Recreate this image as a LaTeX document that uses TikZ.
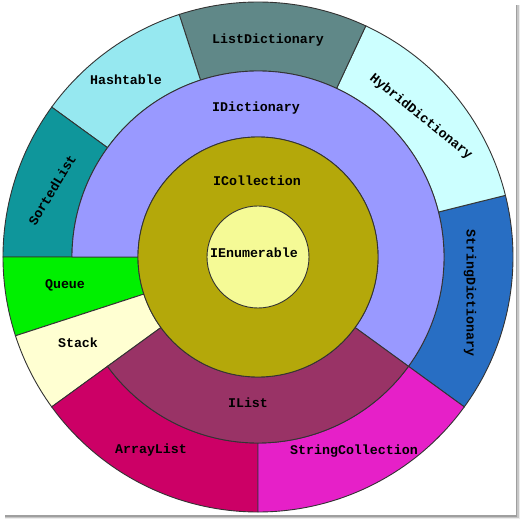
\documentclass[tikz,border=0pt]{standalone}
\usepackage{fontspec}
\setmainfont{Liberation Mono}
\definecolor{cEnum}{RGB}{245,250,150}
\definecolor{cColl}{RGB}{180,168,10}
\definecolor{cDict}{RGB}{153,153,255}
\definecolor{cList}{RGB}{153,51,102}
\definecolor{cListDict}{RGB}{96,136,136}
\definecolor{cHash}{RGB}{150,232,240}
\definecolor{cSorted}{RGB}{15,150,155}
\definecolor{cHybrid}{RGB}{204,255,255}
\definecolor{cStrDict}{RGB}{40,110,195}
\definecolor{cStrColl}{RGB}{230,32,200}
\definecolor{cArray}{RGB}{204,0,102}
\definecolor{cStack}{RGB}{255,255,210}
\definecolor{cQueue}{RGB}{0,240,0}
\newcommand{\ringsector}[5]{%
  \filldraw[fill=#1, edge] (#2:#4) -- (#2:#5) arc[start angle=#2, end angle=#3, radius=#5]
    -- (#3:#4) arc[start angle=#3, end angle=#2, radius=#4] -- cycle;}
\begin{document}
\begin{tikzpicture}[x=1pt,y=1pt,
  lbl/.style={font=\fontsize{13.3}{15}\selectfont\bfseries, text=black, inner sep=0pt},
  edge/.style={draw=black!80, line width=0.9pt}]
\useasboundingbox (-258,-262) rectangle (262,257);
% drop shadow of the frame
\fill[gray!75] (257.5,252) rectangle (259,-260);
\fill[gray!45] (259,252) rectangle (260.5,-261);
\fill[gray!15] (260.5,252) rectangle (262,-262);
\fill[gray!75] (-253,-258.5) rectangle (259,-260);
\fill[gray!45] (-253,-260) rectangle (260.5,-261);
\fill[gray!15] (-253,-261) rectangle (262,-262);
% outer ring
\ringsector{cStrDict}{-36}{14}{186}{255}
\ringsector{cHybrid}{14}{65}{186}{255}
\ringsector{cListDict}{65}{108}{186}{255}
\ringsector{cHash}{108}{144}{186}{255}
\ringsector{cSorted}{144}{180}{186}{255}
\ringsector{cQueue}{180}{198}{120}{255}
\ringsector{cStack}{198}{216}{120}{255}
\ringsector{cArray}{216}{270}{186}{255}
\ringsector{cStrColl}{270}{324}{186}{255}
% middle ring
\ringsector{cDict}{-36}{180}{120}{186}
\ringsector{cList}{216}{324}{120}{186}
% inner circles
\filldraw[fill=cColl, edge] (0,0) circle[radius=120];
\filldraw[fill=cEnum, edge] (0,0) circle[radius=51];
% labels
\node[lbl] (enum) at (-4,4) {IEnumerable};
\node[lbl] (coll) at (-1,76) {ICollection};
\node[lbl] (dict) at (-2,149) {IDictionary};
\node[lbl] (ilist) at (-10,-146) {IList};
\node[lbl] (listdict) at (10,217) {ListDictionary};
\node[lbl] (hash) at (-132,177) {Hashtable};
\node[lbl, rotate=59] (sorted) at (-206,67) {SortedList};
\node[lbl, rotate=-39] (hybrid) at (163,140) {HybridDictionary};
\node[lbl, rotate=-90] (strdict) at (212,-36) {StringDictionary};
\node[lbl] (queue) at (-193,-28) {Queue};
\node[lbl] (stack) at (-180,-86) {Stack};
\node[lbl] (array) at (-107,-193) {ArrayList};
\node[lbl] (strcoll) at (96,-194) {StringCollection};
\end{tikzpicture}
\end{document}
